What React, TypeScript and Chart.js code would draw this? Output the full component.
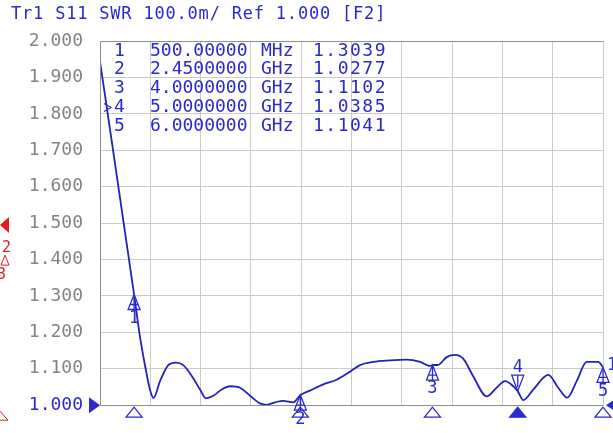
import React, { useEffect, useRef } from 'react';
import { Chart, registerables } from 'chart.js';

Chart.register(...registerables);

// Trace 1: S11 SWR vs frequency (GHz)
const freqGHz = [
  0.1, 0.5, 0.569, 0.628, 0.687, 0.728, 0.804, 0.901, 0.991, 1.077,
  1.194, 1.273, 1.343, 1.429, 1.527, 1.625, 1.742, 1.86, 1.977, 2.055,
  2.153, 2.25, 2.367, 2.45, 2.563, 2.719, 2.875, 3.033, 3.15, 3.306,
  3.502, 3.698, 3.854, 3.971, 4.0, 4.068, 4.166, 4.264, 4.362, 4.479,
  4.636, 4.752, 4.851, 4.948, 5.0, 5.065, 5.182, 5.359, 5.475, 5.582,
  5.691, 5.808, 5.945, 6.0,
];
const swr = [
  1.944, 1.3039, 1.188, 1.109, 1.042, 1.02, 1.066, 1.11, 1.117, 1.11,
  1.074, 1.043, 1.019, 1.026, 1.043, 1.052, 1.048, 1.026, 1.005, 1.001,
  1.008, 1.012, 1.008, 1.0277, 1.04, 1.057, 1.07, 1.092, 1.11, 1.119,
  1.123, 1.125, 1.119, 1.108, 1.1102, 1.111, 1.132, 1.138, 1.127, 1.079,
  1.024, 1.048, 1.066, 1.052, 1.0385, 1.014, 1.043, 1.083, 1.048, 1.021,
  1.066, 1.119, 1.119, 1.1041,
];

// Markers
const markerNum = [1, 2, 3, 4, 5];
const markerFreqGHz = [0.5, 2.45, 4.0, 5.0, 6.0];
const markerSWR = [1.3039, 1.0277, 1.1102, 1.0385, 1.1041];
const markerFreqText = ['500.00000', '2.4500000', '4.0000000', '5.0000000', '6.0000000'];
const markerUnit = ['MHz', 'GHz', 'GHz', 'GHz', 'GHz'];
const activeMarker = 4;

// Axes
const xGridGHz = [0.1, 0.69, 1.28, 1.87, 2.46, 3.05, 3.64, 4.23, 4.82, 5.41, 6.0];
const yMin = 1.0;
const yMax = 2.0;
const yStep = 0.1;
const refValue = 1.0;
const trace2RefValue = 1.5;

const titleText = 'Tr1 S11 SWR 100.0m/ Ref 1.000 [F2]';

const BLUE = '#2a2acc';
const TRACE = '#2222b8';
const GRAY_TXT = '#838383';
const GRID = '#cbcbcb';
const FRAME = '#8e8e8e';
const RED = '#e31c1c';
const FONT = '"DejaVu Sans Mono", monospace';

const overlayPlugin = {
  id: 'vnaOverlay',
  afterDraw(chart: any) {
    const { ctx, chartArea: a, scales } = chart;
    const xs = scales.x;
    const ys = scales.y;
    ctx.save();

    // frame
    ctx.strokeStyle = FRAME;
    ctx.lineWidth = 1;
    ctx.beginPath();
    ctx.moveTo(Math.round(a.left) + 0.5, Math.round(a.top) + 0.5);
    ctx.lineTo(Math.round(a.right) + 0.5, Math.round(a.top) + 0.5);
    ctx.moveTo(Math.round(a.left) + 0.5, Math.round(a.top) + 0.5);
    ctx.lineTo(Math.round(a.left) + 0.5, Math.round(a.bottom) + 0.5);
    ctx.lineTo(Math.round(a.right) + 0.5, Math.round(a.bottom) + 0.5);
    ctx.stroke();

    // title
    ctx.fillStyle = BLUE;
    ctx.font = `17px ${FONT}`;
    ctx.textBaseline = 'middle';
    ctx.textAlign = 'left';
    (ctx as any).letterSpacing = '0.8px';
    ctx.fillText(titleText, 11, 15);
    (ctx as any).letterSpacing = '0px';

    // marker table
    ctx.font = `18px ${FONT}`;
    for (let i = 0; i < markerNum.length; i++) {
      const yy = a.top + 10 + i * 18.8;
      ctx.fillStyle = BLUE;
      ctx.textAlign = 'left';
      ctx.fillText(String(markerNum[i]), 114, yy);
      ctx.fillText(markerFreqText[i], 150, yy);
      ctx.fillText(markerUnit[i], 261, yy);
      (ctx as any).letterSpacing = '1.5px';
      ctx.fillText(markerSWR[i].toFixed(4), 313, yy);
      (ctx as any).letterSpacing = '0px';
      if (markerNum[i] === activeMarker) {
        ctx.strokeStyle = BLUE;
        ctx.lineWidth = 1.2;
        ctx.beginPath();
        ctx.moveTo(104, yy - 4);
        ctx.lineTo(111, yy);
        ctx.lineTo(104, yy + 4);
        ctx.stroke();
      }
    }

    // markers on the trace and stimulus triangles
    ctx.lineWidth = 1.3;
    for (let i = 0; i < markerNum.length; i++) {
      const px = xs.getPixelForValue(markerFreqGHz[i]);
      const py = ys.getPixelForValue(markerSWR[i]);
      ctx.strokeStyle = BLUE;
      ctx.fillStyle = BLUE;
      ctx.font = `17px ${FONT}`;
      ctx.textAlign = 'center';
      if (markerNum[i] === activeMarker) {
        ctx.beginPath();
        ctx.moveTo(px - 6, py - 16);
        ctx.lineTo(px + 6, py - 16);
        ctx.lineTo(px, py);
        ctx.closePath();
        ctx.stroke();
        ctx.beginPath();
        ctx.moveTo(px, py - 16);
        ctx.lineTo(px, py - 4);
        ctx.stroke();
        ctx.fillText(String(markerNum[i]), px, py - 24);
      } else {
        ctx.beginPath();
        ctx.moveTo(px, py);
        ctx.lineTo(px - 6, py + 15);
        ctx.lineTo(px + 6, py + 15);
        ctx.closePath();
        ctx.stroke();
        ctx.beginPath();
        ctx.moveTo(px, py + 2);
        ctx.lineTo(px, py + 15);
        ctx.moveTo(px - 4, py + 10);
        ctx.lineTo(px + 4, py + 10);
        ctx.stroke();
        ctx.fillText(String(markerNum[i]), px, py + 24);
      }
      // stimulus triangle below axis
      const by = a.bottom + 2;
      ctx.beginPath();
      ctx.moveTo(px, by);
      ctx.lineTo(px - 8, by + 10);
      ctx.lineTo(px + 8, by + 10);
      ctx.closePath();
      if (markerNum[i] === activeMarker) {
        ctx.fill();
      }
      ctx.stroke();
    }

    // reference position triangles (trace 1)
    const ry = ys.getPixelForValue(refValue);
    ctx.fillStyle = BLUE;
    ctx.beginPath();
    ctx.moveTo(a.left, ry);
    ctx.lineTo(a.left - 11, ry - 8);
    ctx.lineTo(a.left - 11, ry + 8);
    ctx.closePath();
    ctx.fill();
    ctx.beginPath();
    ctx.moveTo(a.right + 3, ry);
    ctx.lineTo(a.right + 15, ry - 8);
    ctx.lineTo(a.right + 15, ry + 8);
    ctx.closePath();
    ctx.fill();

    // trace number at the right end
    ctx.font = `17px ${FONT}`;
    ctx.textAlign = 'left';
    ctx.fillText('1', a.right + 4, ys.getPixelForValue(markerSWR[4]) - 2);

    // trace 2 (red) partial indicators at the left edge
    const r2 = ys.getPixelForValue(trace2RefValue);
    ctx.fillStyle = RED;
    ctx.strokeStyle = RED;
    ctx.beginPath();
    ctx.moveTo(0, r2 + 2);
    ctx.lineTo(9, r2 - 6);
    ctx.lineTo(9, r2 + 10);
    ctx.closePath();
    ctx.fill();
    ctx.font = `15px ${FONT}`;
    ctx.textAlign = 'left';
    ctx.fillText('2', 2, r2 + 25);
    ctx.lineWidth = 1;
    ctx.beginPath();
    ctx.moveTo(5, r2 + 32);
    ctx.lineTo(1, r2 + 42);
    ctx.lineTo(9, r2 + 42);
    ctx.closePath();
    ctx.stroke();
    ctx.fillText('3', -3, r2 + 52);
    ctx.beginPath();
    ctx.moveTo(0, a.bottom + 6);
    ctx.lineTo(-7, a.bottom + 15);
    ctx.lineTo(8, a.bottom + 15);
    ctx.closePath();
    ctx.stroke();

    ctx.restore();
  },
};

export default function App() {
  const canvasRef = useRef<HTMLCanvasElement | null>(null);

  useEffect(() => {
    document.body.style.margin = '0';
    const canvas = canvasRef.current;
    if (!canvas) return;
    const chart = new Chart(canvas, {
      type: 'line',
      data: {
        datasets: [
          {
            data: freqGHz.map((f, i) => ({ x: f, y: swr[i] })),
            borderColor: TRACE,
            borderWidth: 1.8,
            pointRadius: 0,
            cubicInterpolationMode: 'monotone',
            fill: false,
          },
        ],
      },
      options: {
        animation: false,
        responsive: false,
        devicePixelRatio: 1,
        layout: { padding: { top: 41, right: 10, bottom: 15, left: 0 } },
        plugins: {
          legend: { display: false },
          tooltip: { enabled: false },
          title: { display: false },
        },
        scales: {
          x: {
            type: 'linear',
            min: xGridGHz[0],
            max: xGridGHz[xGridGHz.length - 1],
            afterBuildTicks: (s: any) => {
              s.ticks = xGridGHz.map((v) => ({ value: v }));
            },
            afterFit: (s: any) => {
              s.height = 0;
            },
            ticks: { display: false },
            grid: { color: GRID, drawTicks: false, lineWidth: 1 },
            border: { display: false },
          },
          y: {
            type: 'linear',
            min: yMin,
            max: yMax,
            afterFit: (s: any) => {
              s.width = 100;
            },
            ticks: {
              stepSize: yStep,
              padding: 17,
              font: { family: 'DejaVu Sans Mono', size: 18 },
              color: (c: any) => (Math.abs(c.tick.value - refValue) < 1e-6 ? BLUE : GRAY_TXT),
              callback: (v: any) => Number(v).toFixed(3),
            },
            grid: { color: GRID, drawTicks: false, lineWidth: 1 },
            border: { display: false },
          },
        },
      } as any,
      plugins: [overlayPlugin],
    });
    return () => chart.destroy();
  }, []);

  return (
    <div style={{ width: 613, height: 433, background: '#fff' }}>
      <canvas ref={canvasRef} width={613} height={433} style={{ display: 'block' }} />
    </div>
  );
}
